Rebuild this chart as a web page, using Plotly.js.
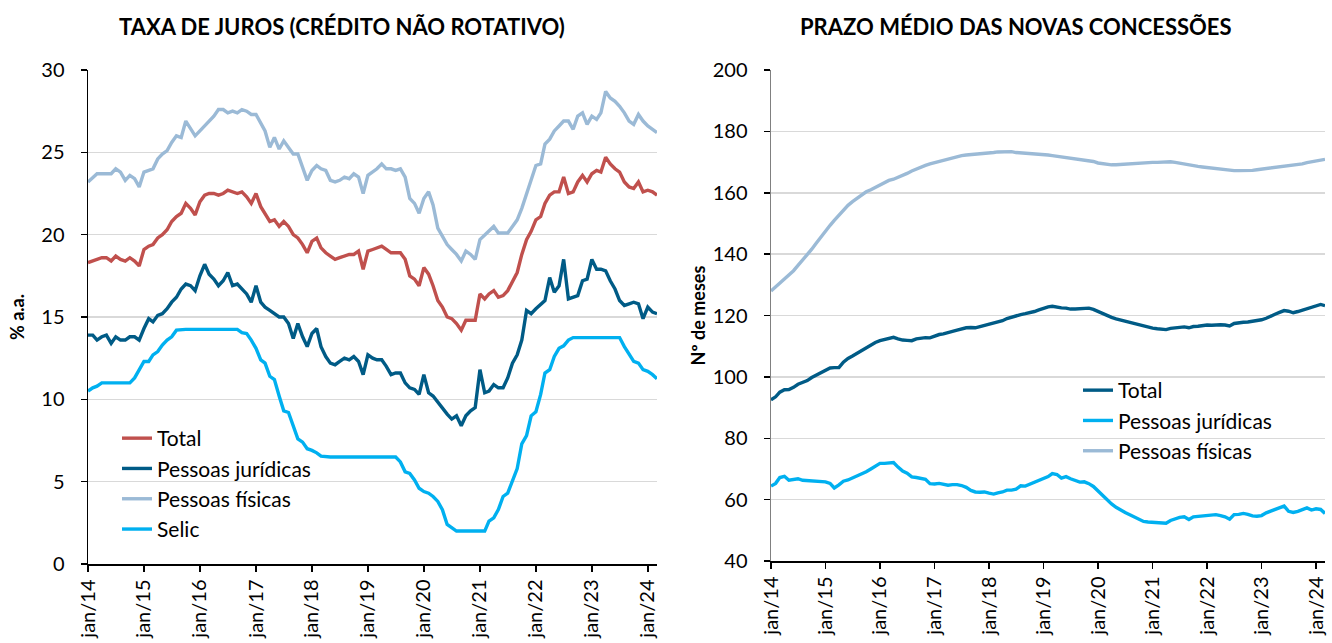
<!DOCTYPE html>
<html>
<head>
<meta charset="utf-8">
<script src="https://cdn.plot.ly/plotly-3.0.1.min.js"></script>
<style>
  html, body { margin: 0; padding: 0; background: #fff; }
  #chart { width: 1332px; height: 643px; }
</style>
</head>
<body>
<div id="chart"></div>
<script>
// ---------- DATA ----------
// Monthly observations, jan/2014 .. mar/2024 (123 months)
const startYear = 2014;
const nMonths = 123;
const months = [];
for (let i = 0; i < nMonths; i++) {
  const y = startYear + Math.floor(i / 12);
  const m = (i % 12) + 1;
  months.push(y + '-' + String(m).padStart(2, '0') + '-01');
}

const yearTickVals = ['2014-01-01','2015-01-01','2016-01-01','2017-01-01','2018-01-01','2019-01-01',
                      '2020-01-01','2021-01-01','2022-01-01','2023-01-01','2024-01-01'];
const yearTickText = ['jan/14','jan/15','jan/16','jan/17','jan/18','jan/19',
                      'jan/20','jan/21','jan/22','jan/23','jan/24'];

// Left chart: interest rates (% a.a.)
const taxaTotal = [18.3,18.4,18.5,18.6,18.6,18.4,18.7,18.5,18.4,18.6,
  18.4,18.1,19.1,19.3,19.4,19.8,20.0,20.3,20.8,21.1,
  21.3,21.9,21.6,21.2,22.0,22.4,22.5,22.5,22.4,22.5,
  22.7,22.6,22.5,22.6,22.3,21.9,22.5,21.7,21.3,20.8,
  20.9,20.5,20.8,20.5,20.0,19.8,19.4,18.9,19.6,19.8,
  19.2,18.9,18.7,18.5,18.6,18.7,18.8,18.8,19.0,17.9,
  19.0,19.1,19.2,19.3,19.1,18.9,18.9,18.9,18.5,17.5,
  17.3,16.9,18.0,17.6,16.9,16.0,15.6,15.0,14.9,14.6,
  14.2,14.8,14.8,14.8,16.4,16.1,16.4,16.6,16.2,16.3,
  16.6,17.2,17.7,18.8,19.7,20.2,20.9,21.1,21.9,22.4,
  22.6,22.6,23.5,22.5,22.6,23.2,23.6,23.2,23.7,23.9,
  23.8,24.7,24.3,24.0,23.8,23.2,22.9,22.8,23.2,22.6,
  22.7,22.6,22.4];

const taxaPJ = [13.9,13.9,13.6,13.8,13.9,13.4,13.8,13.6,13.6,13.8,
  13.8,13.6,14.3,14.9,14.7,15.1,15.2,15.5,15.9,16.2,
  16.7,17.0,16.9,16.6,17.5,18.2,17.6,17.3,16.9,17.2,
  17.7,16.9,17.0,16.7,16.4,15.9,16.9,15.9,15.6,15.4,
  15.2,15.0,15.0,14.6,13.7,14.6,13.8,13.2,14.0,14.3,
  13.2,12.6,12.2,12.1,12.3,12.5,12.4,12.6,12.3,11.5,
  12.7,12.5,12.4,12.4,12.0,11.5,11.6,11.6,11.0,10.7,
  10.6,10.3,11.5,10.4,10.2,9.8,9.5,9.1,8.8,9.0,
  8.4,9.0,9.3,9.5,11.8,10.4,10.5,10.9,10.7,10.7,
  11.3,12.2,12.7,13.6,15.4,15.2,15.5,15.8,16.0,17.4,
  16.5,16.9,18.5,16.1,16.2,16.3,17.2,17.3,18.5,17.9,
  17.9,17.8,17.2,16.7,16.0,15.7,15.8,15.9,15.8,14.9,
  15.6,15.3,15.2];

const taxaPF = [23.2,23.5,23.7,23.7,23.7,23.7,24.0,23.8,23.3,23.6,
  23.4,22.9,23.8,23.9,24.0,24.6,24.9,25.1,25.6,26.0,
  25.9,26.9,26.4,26.0,26.3,26.6,26.9,27.2,27.6,27.6,
  27.4,27.5,27.4,27.6,27.5,27.3,27.3,26.8,26.3,25.3,
  25.9,25.2,25.7,25.3,24.9,24.9,24.1,23.3,23.9,24.2,
  24.0,23.9,23.3,23.2,23.3,23.5,23.4,23.7,23.5,22.5,
  23.6,23.8,24.0,24.3,24.0,24.0,23.9,24.0,23.5,22.2,
  21.9,21.3,22.2,22.6,21.8,20.4,19.9,19.4,19.1,18.8,
  18.4,19.0,18.8,18.5,19.7,20.0,20.2,20.5,20.1,20.1,
  20.1,20.5,20.9,21.6,22.5,23.4,24.2,24.3,25.5,25.8,
  26.3,26.6,26.9,26.9,26.4,27.2,27.4,26.7,27.2,27.0,
  27.4,28.7,28.3,28.1,27.8,27.4,26.9,26.7,27.3,26.9,
  26.6,26.4,26.2];

const selic = [10.5,10.7,10.8,11.0,11.0,11.0,11.0,11.0,11.0,11.0,
  11.3,11.8,12.3,12.3,12.7,12.9,13.3,13.6,13.8,14.2,
  14.25,14.25,14.25,14.25,14.25,14.25,14.25,14.25,14.25,14.25,
  14.25,14.25,14.25,14.05,14.0,13.6,13.1,12.4,12.2,11.4,
  11.2,10.2,9.3,9.2,8.4,7.6,7.4,7.0,6.9,6.75,
  6.55,6.5,6.5,6.5,6.5,6.5,6.5,6.5,6.5,6.5,
  6.5,6.5,6.5,6.5,6.5,6.5,6.5,6.2,5.6,5.5,
  5.1,4.6,4.4,4.3,4.1,3.8,3.3,2.4,2.2,2.0,
  2.0,2.0,2.0,2.0,2.0,2.0,2.6,2.8,3.3,4.1,
  4.3,5.0,5.8,7.3,7.8,9.0,9.25,10.3,11.6,11.8,
  12.6,13.1,13.25,13.6,13.75,13.75,13.75,13.75,13.75,13.75,
  13.75,13.75,13.75,13.75,13.75,13.2,12.7,12.3,12.2,11.8,
  11.7,11.5,11.25];

// Right chart: average term of new loans (months)
const prazoTotal = [92.5,93.5,95.0,95.8,95.9,96.6,97.6,98.2,98.8,99.8,
  100.6,101.4,102.2,102.9,103.0,103.0,104.8,106.0,106.8,107.7,
  108.5,109.4,110.3,111.2,111.8,112.2,112.6,112.9,112.4,112.0,
  111.9,111.8,112.4,112.7,112.8,112.7,113.3,113.8,114.0,114.3,
  114.8,115.2,115.6,116.0,116.1,116.0,116.4,116.8,117.0,117.4,
  117.8,118.3,119.0,119.5,119.9,120.3,120.6,120.9,121.3,121.8,
  122.4,122.8,123.0,122.7,122.5,122.4,122.1,122.1,122.2,122.4,
  122.4,122.0,121.3,120.5,119.8,119.4,118.9,118.5,118.2,117.9,
  117.4,117.0,116.6,116.1,115.9,115.7,115.5,115.4,115.8,116.0,
  116.2,116.3,116.0,116.4,116.5,116.7,116.9,116.8,117.0,117.0,
  116.9,116.6,117.4,117.7,117.8,117.9,118.1,118.3,118.6,119.1,
  119.8,120.4,121.0,121.6,121.4,120.9,121.3,121.8,122.3,122.8,
  123.3,123.6,123.2];

const prazoPJ = [64.4,65.3,67.2,67.6,66.3,66.5,66.8,66.3,66.2,66.2,
  66.0,66.0,65.8,65.3,63.8,64.8,66.0,66.4,67.0,67.6,
  68.4,69.1,70.0,71.0,71.8,71.8,71.9,72.1,70.6,69.3,
  68.6,67.4,67.2,67.0,66.6,65.2,65.1,65.3,64.9,64.7,
  64.9,64.9,64.6,64.0,63.0,62.5,62.4,62.5,62.1,61.8,
  62.2,62.5,63.1,63.1,63.4,64.5,64.4,65.0,65.6,66.1,
  66.7,67.5,68.5,68.2,67.0,67.5,66.8,66.1,65.7,65.8,
  65.2,64.3,62.8,61.3,59.8,58.6,57.5,56.5,55.8,55.1,
  54.4,53.5,52.9,52.7,52.6,52.5,52.4,52.3,53.2,53.8,
  54.2,54.4,53.5,54.4,54.6,54.7,54.9,55.1,55.1,54.8,
  54.4,53.6,55.1,55.2,55.5,55.2,54.7,54.6,54.8,55.7,
  56.2,56.8,57.3,57.9,56.2,55.8,56.2,56.6,57.3,56.6,
  57.0,56.8,55.5];

const prazoPF = [128.0,129.3,130.7,132.0,133.2,134.6,136.3,138.0,139.7,141.6,
  143.6,145.6,147.7,149.4,151.0,152.7,154.3,155.9,157.1,158.2,
  159.4,160.3,161.0,161.7,162.3,163.1,164.0,164.4,165.0,165.5,
  166.3,167.1,167.8,168.3,168.9,169.4,169.8,170.3,170.7,171.2,
  171.6,171.9,172.1,172.3,172.4,172.6,172.8,172.9,173.0,173.1,
  173.3,173.4,173.5,173.4,173.1,173.0,172.9,172.8,172.8,172.6,
  172.4,172.3,172.1,171.9,171.8,171.6,171.4,171.1,170.9,170.7,
  170.5,170.2,169.7,169.4,169.2,169.1,169.1,169.2,169.4,169.6,
  169.7,169.7,169.8,169.8,169.9,169.9,170.0,170.1,170.1,169.9,
  169.6,169.3,169.0,168.8,168.6,168.4,168.2,168.1,167.9,167.7,
  167.4,167.3,167.2,167.2,167.2,167.2,167.3,167.5,167.7,167.8,
  167.9,168.1,168.3,168.5,168.6,168.8,169.1,169.4,169.8,170.1,
  170.5,170.8,170.9];

// ---------- STYLE ----------
const FONT = 'Lato, "Liberation Sans", sans-serif';
const C_RED = '#C0504D';
const C_DARK = '#005B86';
const C_LIGHT = '#9BBAD6';
const C_CYAN = '#00B0F0';
const LW = 3.4;

function line(x, y, name, color, xa, ya, legend) {
  return { type: 'scatter', mode: 'lines', x: x, y: y, name: name,
           line: { color: color, width: LW }, xaxis: xa, yaxis: ya,
           legend: legend, hoverinfo: 'skip' };
}

const traces = [
  line(months, taxaTotal, 'Total', C_RED, 'x', 'y', 'legend'),
  line(months, taxaPJ, 'Pessoas jurídicas', C_DARK, 'x', 'y', 'legend'),
  line(months, taxaPF, 'Pessoas físicas', C_LIGHT, 'x', 'y', 'legend'),
  line(months, selic, 'Selic', C_CYAN, 'x', 'y', 'legend'),
  line(months, prazoTotal, 'Total', C_DARK, 'x2', 'y2', 'legend2'),
  line(months, prazoPJ, 'Pessoas jurídicas', C_CYAN, 'x2', 'y2', 'legend2'),
  line(months, prazoPF, 'Pessoas físicas', C_LIGHT, 'x2', 'y2', 'legend2')
];

const W = 1332, H = 643;
const TICKFONT = { family: FONT, size: 20, color: '#000' };
const xAxisBase = {
  type: 'date',
  range: ['2014-01-01', '2024-03-01'],
  tickvals: yearTickVals, ticktext: yearTickText,
  tickangle: -90,
  showgrid: false, zeroline: false,
  showline: true, linecolor: '#000', linewidth: 1.5,
  ticks: 'outside', ticklen: 6, tickcolor: '#000', tickwidth: 1.5,
  tickfont: TICKFONT,
  fixedrange: true
};
const yAxisBase = {
  showgrid: true, gridcolor: '#D9D9D9', gridwidth: 1.5,
  zeroline: false, showline: true,
  ticks: 'outside', ticklen: 6, tickcolor: '#000', tickwidth: 1.5,
  tickfont: TICKFONT, ticklabelstandoff: 12,
  fixedrange: true
};

const layout = {
  width: W, height: H,
  margin: { l: 0, r: 0, t: 0, b: 0 },
  paper_bgcolor: '#fff', plot_bgcolor: '#fff',
  font: { family: FONT, color: '#000' },
  showlegend: true,
  xaxis: Object.assign({}, xAxisBase, { domain: [88 / W, 657 / W], anchor: 'y' }),
  yaxis: Object.assign({}, yAxisBase, {
    domain: [(H - 564) / H, (H - 70) / H], anchor: 'x',
    range: [0, 30], dtick: 5, tick0: 0, linecolor: '#000', linewidth: 1.5,
    title: { text: '<b>% a.a.</b>', font: { family: FONT, size: 18, color: '#000' }, standoff: 12 }
  }),
  xaxis2: Object.assign({}, xAxisBase, { domain: [771 / W, 1325 / W], anchor: 'y2' }),
  yaxis2: Object.assign({}, yAxisBase, {
    domain: [(H - 561) / H, (H - 70) / H], anchor: 'x2',
    range: [40, 200], dtick: 20, tick0: 40, linecolor: '#808080', linewidth: 1.5,
    title: { text: '<b>Nº de meses</b>', font: { family: FONT, size: 18, color: '#000' }, standoff: 2 }
  }),
  legend: {
    x: 117 / W, y: 1 - 418 / H, xanchor: 'left', yanchor: 'top',
    bgcolor: 'rgba(255,255,255,0)', borderwidth: 0,
    font: { family: FONT, size: 21, color: '#000' },
    tracegroupgap: 0
  },
  legend2: {
    x: 1078 / W, y: 1 - 370 / H, xanchor: 'left', yanchor: 'top',
    bgcolor: 'rgba(255,255,255,0)', borderwidth: 0,
    font: { family: FONT, size: 21, color: '#000' },
    tracegroupgap: 0
  },
  annotations: [
    { text: '<b>TAXA DE JUROS (CRÉDITO NÃO ROTATIVO)</b>', xref: 'paper', yref: 'paper',
      x: 342 / W, y: 1 - 27 / H, xanchor: 'center', yanchor: 'middle', showarrow: false,
      font: { family: FONT, size: 22, color: '#000' } },
    { text: '<b>PRAZO MÉDIO DAS NOVAS CONCESSÕES</b>', xref: 'paper', yref: 'paper',
      x: 1016 / W, y: 1 - 27 / H, xanchor: 'center', yanchor: 'middle', showarrow: false,
      font: { family: FONT, size: 22, color: '#000' } }
  ]
};

Plotly.newPlot('chart', traces, layout, { displayModeBar: false, staticPlot: true });
</script>
</body>
</html>
